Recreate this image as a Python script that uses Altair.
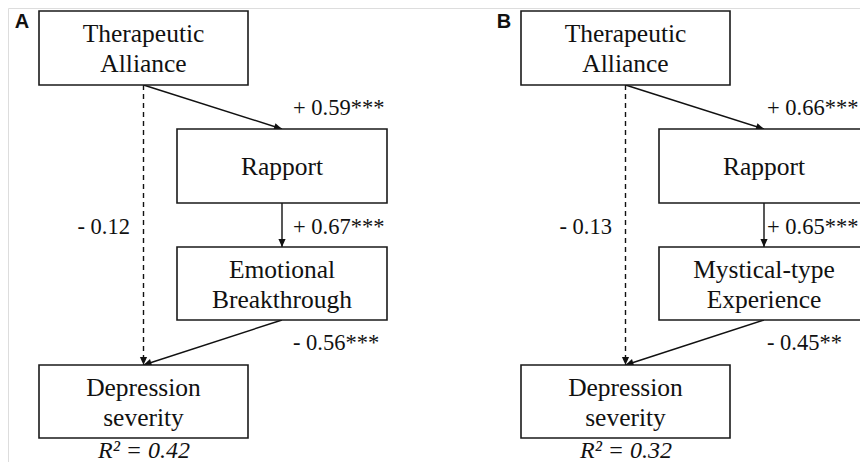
import math
import altair as alt
import pandas as pd

# ---------------- data ----------------
panel_letters = ["A", "B"]
nodes_A = ["Therapeutic\nAlliance", "Rapport", "Emotional\nBreakthrough", "Depression\nseverity"]
nodes_B = ["Therapeutic\nAlliance", "Rapport", "Mystical-type\nExperience", "Depression\nseverity"]
coefs_A = ["+ 0.59***", "+ 0.67***", "- 0.56***", "- 0.12"]
coefs_B = ["+ 0.66***", "+ 0.65***", "- 0.45**", "- 0.13"]
r2_values = ["0.42", "0.32"]
# edges: (from node index, to node index, dashed)
edges = [(0, 1, False), (1, 2, False), (2, 3, False), (0, 3, True)]

# ---------------- layout (pixels) ----------------
panel_dx = [0, 482]
node_cx = [143.5, 282, 282, 143.5]
node_cy = [48, 166, 283.5, 401.5]
node_w = [209, 210, 210, 209]
node_h = [74, 74, 73, 73]
line_gap = 30
coef_x = [293, 293, 293, 130]
coef_shift = [0, -8]          # keep right-panel labels inside the page
coef_y = [108, 227, 343, 227]
coef_align = ["left", "left", "left", "right"]
letter_pos = (22, 22)
r2_pos = (144, 458)

boxes, btext, lines, heads, coefs, letters, r2s = [], [], [], [], [], [], []
for p, (names, cf) in enumerate([(nodes_A, coefs_A), (nodes_B, coefs_B)]):
    dx = panel_dx[p]
    for i, name in enumerate(names):
        boxes.append(dict(x=dx + node_cx[i] - node_w[i] / 2, x2=dx + node_cx[i] + node_w[i] / 2,
                          y=node_cy[i] - node_h[i] / 2, y2=node_cy[i] + node_h[i] / 2))
        parts = name.split("\n")
        for j, t in enumerate(parts):
            btext.append(dict(x=dx + node_cx[i],
                              y=node_cy[i] + (j - (len(parts) - 1) / 2) * line_gap,
                              text=t))
    for k, (a, b, dashed) in enumerate(edges):
        x1, y1 = dx + node_cx[a], node_cy[a] + node_h[a] / 2
        x2, y2 = dx + node_cx[b], node_cy[b] - node_h[b] / 2
        lines.append(dict(x=x1, y=y1, x2=x2, y2=y2, style="d" if dashed else "s"))
        ang = math.degrees(math.atan2(x2 - x1, -(y2 - y1))) % 360
        heads.append(dict(x=x2, y=y2, angle=ang))
        sh = coef_shift[p] if coef_align[k] == "left" else 0
        coefs.append(dict(x=dx + coef_x[k] + sh, y=coef_y[k], text=cf[k], side=coef_align[k]))
    letters.append(dict(x=dx + letter_pos[0], y=letter_pos[1], text=panel_letters[p]))
    r2s.append(dict(x=dx + r2_pos[0], y=r2_pos[1], text=f"R² = {r2_values[p]}"))

W, H = 852, 454
xs = alt.Scale(domain=[8, 8 + W], nice=False, zero=False)
ys = alt.Scale(domain=[8, 8 + H], nice=False, zero=False, reverse=True)
X = lambda f="x": alt.X(f"{f}:Q", scale=xs, axis=None)
Y = lambda f="y": alt.Y(f"{f}:Q", scale=ys, axis=None)

SERIF = "Liberation Serif"

box_layer = alt.Chart(pd.DataFrame(boxes)).mark_rect(
    fill="white", stroke="#1a1a1a", strokeWidth=1.6
).encode(x=X(), x2="x2:Q", y=Y(), y2="y2:Q")

box_text = alt.Chart(pd.DataFrame(btext)).mark_text(
    font=SERIF, fontSize=25.5, baseline="middle", align="center", color="#111", dy=1
).encode(x=X(), y=Y(), text="text:N")

ldf = pd.DataFrame(lines)
solid = alt.Chart(ldf[ldf["style"] == "s"]).mark_rule(color="#111", strokeWidth=1.4).encode(
    x=X(), y=Y(), x2="x2:Q", y2="y2:Q")
dashed = alt.Chart(ldf[ldf["style"] == "d"]).mark_rule(
    color="#111", strokeWidth=1.4, strokeDash=[5, 4]).encode(
    x=X(), y=Y(), x2="x2:Q", y2="y2:Q")

head_layer = alt.Chart(pd.DataFrame(heads)).mark_point(
    shape="M0,0L-0.45,1L0.45,1Z", filled=True, size=256, color="#111", opacity=1
).encode(x=X(), y=Y(), angle=alt.Angle("angle:Q", scale=None))

cdf = pd.DataFrame(coefs)
coef_left = alt.Chart(cdf[cdf["side"] == "left"]).mark_text(
    font=SERIF, fontSize=22.5, align="left", baseline="middle", color="#111"
).encode(x=X(), y=Y(), text="text:N")
coef_right = alt.Chart(cdf[cdf["side"] == "right"]).mark_text(
    font=SERIF, fontSize=22.5, align="right", baseline="middle", color="#111"
).encode(x=X(), y=Y(), text="text:N")

letter_layer = alt.Chart(pd.DataFrame(letters)).mark_text(
    font="Liberation Sans", fontSize=20, fontWeight="bold", align="center",
    baseline="middle", color="#111"
).encode(x=X(), y=Y(), text="text:N")

r2_layer = alt.Chart(pd.DataFrame(r2s)).mark_text(
    font=SERIF, fontSize=24, fontStyle="italic", align="center", baseline="alphabetic", color="#111"
).encode(x=X(), y=Y(), text="text:N")

chart = alt.layer(
    dashed, solid, head_layer, box_layer, box_text, coef_left, coef_right, letter_layer, r2_layer
).properties(width=W, height=H, padding=0, autosize=alt.AutoSizeParams(type="none")
).configure_view(strokeWidth=0).configure(background="white")

chart.save("out.html", embed_options={"renderer": "svg", "actions": False})
